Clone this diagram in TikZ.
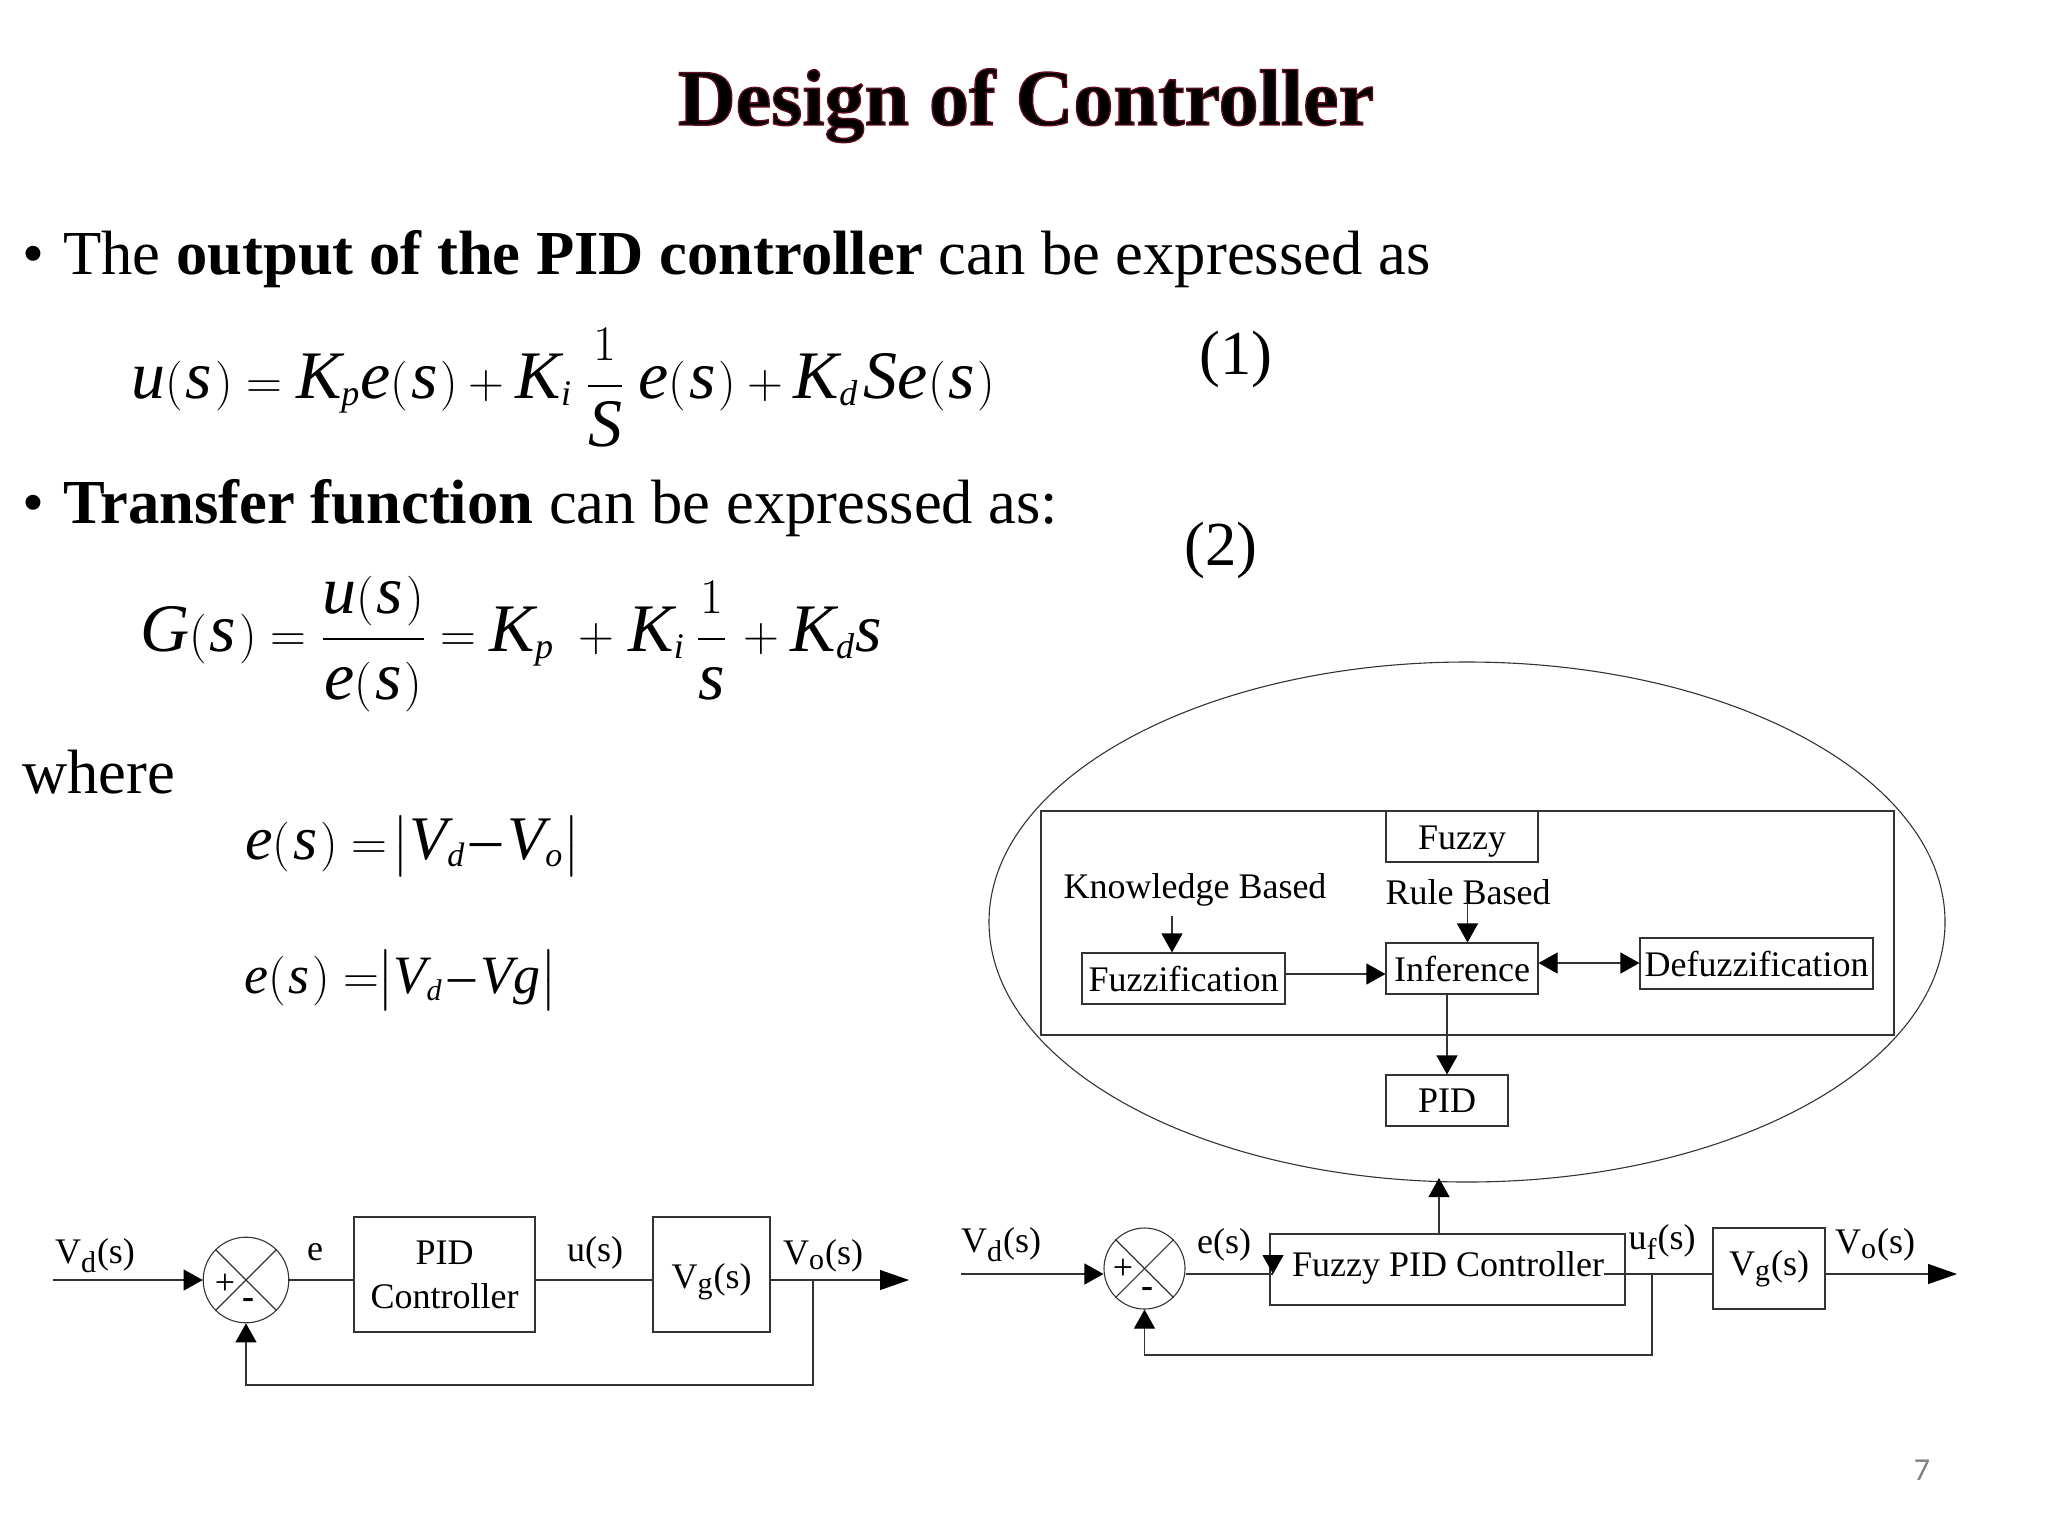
\documentclass[tikz,border=0pt]{standalone}
\usepackage{amsmath}
\usepackage{fontspec}
\setmainfont{Liberation Serif}
\usepackage[italic]{mathastext}
\newfontfamily\pagefont{Carlito}
\usepackage{xcolor}
\usetikzlibrary{arrows.meta,shapes.geometric}

\definecolor{linegray}{HTML}{333333}
\DeclareMathSizes{34}{34}{18}{14}
\DeclareMathSizes{31}{31}{17}{13}
\DeclareMathSizes{27}{27}{15}{12}
\newcommand{\edged}[1]{\special{pdf:code q 2 Tr 0.7 w 0.38 0.05 0.12 RG}#1\special{pdf:code Q}}
\newcommand{\gapfrac}[2]{\frac{#1\rule[-9pt]{0pt}{0pt}}{\rule{0pt}{27pt}#2}}
\newcommand{\ofs}{(\mkern1mu s\mkern1mu)}

\tikzset{
    blockbox/.style={draw=linegray, line width=0.55pt, inner sep=0, align=center, font=\fontsize{18}{21}\selectfont},
    tag/.style={inner sep=0, font=\fontsize{18}{21}\selectfont},
    body/.style={inner sep=0, anchor=base west, font=\fontsize{31.3}{36}\selectfont},
    formula/.style={inner sep=0, anchor=base west, font=\fontsize{34}{40}\selectfont},
    wire/.style={draw=linegray, line width=0.55pt},
    arr/.style={wire, -{Triangle[length=9.5pt,width=10.5pt,black]}},
    darr/.style={wire, {Triangle[length=9.5pt,width=10.5pt,black]}-{Triangle[length=9.5pt,width=10.5pt,black]}},
    outarr/.style={wire, -{Triangle[length=14.5pt,width=10pt,black]}},
    sumnode/.style={draw=linegray, line width=0.55pt, shape=circle, inner sep=0}
}

\begin{document}
\begin{tikzpicture}[x=0.5pt, y=-0.5pt]
    \useasboundingbox (0, 0) rectangle (2048, 1536);

    % Title
    \node[inner sep=0, anchor=base, font=\fontsize{40}{46}\bfseries\selectfont, text=black] (title) at (1026, 125) {\edged{Design of Controller}};

    % Text and formulas
    \node[body] (bulletA) at (22, 274) {•};
    \node[body] (lineA) at (63, 274) {The \textbf{output of the PID controller} can be expressed as};
    \node[formula] (eqA) at (131, 398) {$\displaystyle u\ofs=K_p e\ofs+K_i\mkern5mu\gapfrac{1}{S}\mkern5mu e\ofs+K_d\mkern2mu Se\ofs$};
    \node[body, anchor=center] (numA) at (1236, 359) {(1)};
    \node[body] (bulletB) at (22, 523.5) {•};
    \node[body] (lineB) at (63, 523.5) {\textbf{Transfer function} can be expressed as:};
    \node[body, anchor=center] (numB) at (1221, 550) {(2)};
    \node[formula] (eqB) at (140, 651) {$\displaystyle G\ofs=\gapfrac{u\ofs}{e\ofs}=K_p\mkern5mu+\mkern1mu K_i\mkern4mu\gapfrac{1}{s}\mkern2mu+K_d s$};
    \node[body] (where) at (22, 793) {where};
    \node[formula, font=\fontsize{31}{36}\selectfont] (eqC) at (245, 859) {$e\ofs=\mkern-3mu\left|V_d\mkern-2mu-\mkern-2mu V_o\right|$};
    \node[formula, font=\fontsize{27}{32}\selectfont] (eqD) at (244, 993) {$e\ofs=\mkern-6mu\left|V_d\mkern-2mu-\mkern-2mu Vg\right|$};

    % Ellipse with the fuzzy part
    \node[draw=linegray, line width=0.55pt, shape=ellipse, inner sep=0, minimum width=478pt, minimum height=260pt] (zoom) at (1467, 922) {};
    \node[blockbox, minimum width=426.5pt, minimum height=112pt] (frame) at (1467.5, 923) {};
    \node[blockbox, minimum width=76pt, minimum height=25.5pt, text depth=0pt] (fuzzy) at (1462, 836.5) {\raisebox{-1.5pt}{Fuzzy}};
    \node[tag] (knowledge) at (1195, 889.5) {Knowledge Based};
    \node[tag] (rule) at (1468, 892) {Rule Based};
    \node[blockbox, minimum width=101.5pt, minimum height=25.5pt] (fuzzification) at (1183.5, 978.5) {Fuzzification};
    \node[blockbox, minimum width=76pt, minimum height=25.5pt] (inference) at (1462, 968.5) {Inference};
    \node[blockbox, minimum width=116.5pt, minimum height=25.5pt] (defuzz) at (1756.5, 963.5) {Defuzzification};
    \node[blockbox, minimum width=61pt, minimum height=25.5pt] (pidb) at (1447, 1100.5) {PID};

    \coordinate (knowledgeEnd) at (1172, 916);
    \coordinate (ruleEnd) at (1467.5, 902);
    \draw[arr] (knowledgeEnd) -- (knowledgeEnd |- fuzzification.north);
    \draw[arr] (ruleEnd) -- (ruleEnd |- inference.north);
    \draw[arr] (fuzzification.east |- 0,974) -- (inference.west |- 0,974);
    \draw[darr] (inference.east |- 0,963) -- (defuzz.west |- 0,963);
    \draw[arr] (pidb.north |- inference.south) -- (pidb.north);

    % Left loop
    \coordinate (inL) at (53, 1280);
    \node[sumnode, minimum size=42.8pt] (sumL) at (246, 1280) {};
    \draw[wire] (sumL.north west) -- (sumL.south east);
    \draw[wire] (sumL.north east) -- (sumL.south west);
    \node[tag] (plusL) at (225, 1284) {+};
    \node[tag, font=\fontsize{18}{21}\bfseries\selectfont] (minusL) at (248, 1303) {-};
    \node[blockbox, minimum width=90.5pt, minimum height=57.5pt] (pidL) at (444.5, 1274.5) {PID\\[1pt]Controller};
    \node[blockbox, minimum width=58.5pt, minimum height=57.5pt] (plantL) at (711.5, 1274.5) {\raisebox{-6.75pt}[0pt][0pt]{V\textsubscript{g}(s)}};
    \coordinate (outL) at (909, 1280);
    \coordinate (tapL) at (813, 1280);
    \coordinate (backL) at (813, 1385);

    \draw[arr] (inL) -- (sumL.west);
    \draw[wire] (sumL.east) -- (pidL.west |- sumL.east);
    \draw[wire] (pidL.east |- sumL.east) -- (plantL.west |- sumL.east);
    \draw[outarr] (plantL.east |- outL) -- (outL);
    \draw[arr] (tapL) -- (backL) -| (sumL.south);

    \node[tag] (vdL) at (95, 1256) {V\textsubscript{d}(s)};
    \node[tag] (eL) at (315, 1252) {e};
    \node[tag] (uL) at (595, 1253) {u(s)};
    \node[tag] (voL) at (823, 1256) {V\textsubscript{o}(s)};

    % Right loop
    \coordinate (inR) at (961, 1274);
    \node[sumnode, minimum size=40.5pt] (sumR) at (1144.5, 1268.5) {};
    \draw[wire] (sumR.north west) -- (sumR.south east);
    \draw[wire] (sumR.north east) -- (sumR.south west);
    \node[tag] (plusR) at (1123, 1269) {+};
    \node[tag, font=\fontsize{18}{21}\bfseries\selectfont] (minusR) at (1147, 1292) {-};
    \node[blockbox, minimum width=177.5pt, minimum height=35.5pt] (pidR) at (1447.5, 1269.5) {};
    \node[blockbox, minimum width=56pt, minimum height=40.5pt] (plantR) at (1769, 1268.5) {\raisebox{-3.25pt}[0pt][0pt]{V\textsubscript{g}(s)}};
    \node[tag] (pidRtext) at (1448, 1268) {Fuzzy PID Controller};
    \coordinate (outR) at (1957, 1274);
    \coordinate (tapR) at (1652, 1274);
    \coordinate (backR) at (1652, 1355);
    \coordinate (eStart) at (1273, 1255);
    \coordinate (upEnd) at (1439, 1178);

    \draw[arr] (inR) -- (sumR.west |- inR);
    \draw[wire] (sumR.east |- inR) -- (eStart |- inR);
    \draw[arr] (eStart) -- (eStart |- inR);
    \draw[wire] (pidRtext.east |- inR) -- (plantR.west |- inR);
    \draw[outarr] (plantR.east |- inR) -- (outR);
    \draw[arr] (tapR) -- (backR) -| (sumR.south);
    \draw[arr] (upEnd |- pidR.north) -- (upEnd);

    \node[tag] (vdR) at (1001, 1245) {V\textsubscript{d}(s)};
    \node[tag] (eR) at (1224, 1245) {e(s)};
    \node[tag] (uR) at (1662, 1242) {u\textsubscript{f}(s)};
    \node[tag] (voR) at (1875, 1245) {V\textsubscript{o}(s)};

    % Page number
    \node[inner sep=0, text=black!50, font=\pagefont\fontsize{16}{18}\selectfont] (page) at (1922, 1470) {7};

\end{tikzpicture}
\end{document}
